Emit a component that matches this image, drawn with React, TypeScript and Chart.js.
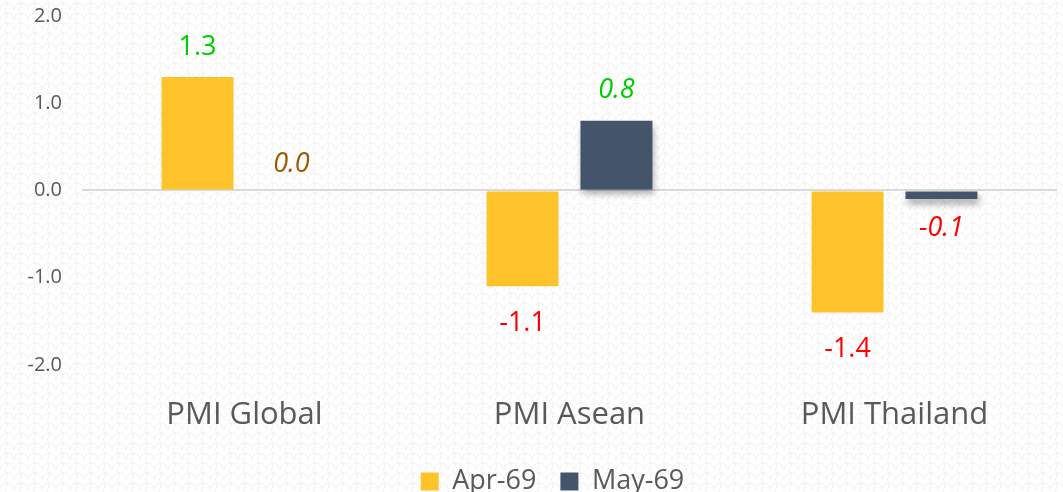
import React, { useEffect, useRef } from "react";
import { Chart, registerables } from "chart.js";

Chart.register(...registerables);

const categories = ["PMI Global", "PMI Asean", "PMI Thailand"];
const seriesNames = ["Apr-69", "May-69"];
const aprValues = [1.3, -1.1, -1.4];
const mayValues = [0.0, 0.8, -0.1];
const yTicks = [2.0, 1.0, 0.0, -1.0, -2.0];

const FONT = "'Open Sans', 'Noto Sans', sans-serif";

function makePattern(): HTMLCanvasElement {
  const c = document.createElement("canvas");
  c.width = 14;
  c.height = 10;
  const g = c.getContext("2d")!;
  g.fillStyle = "#ffffff";
  g.fillRect(0, 0, 14, 10);
  g.strokeStyle = "#f1f1f1";
  g.lineWidth = 1;
  g.beginPath();
  g.arc(7, 10, 7, Math.PI, 2 * Math.PI);
  g.stroke();
  g.beginPath();
  g.arc(0, 5, 7, 1.5 * Math.PI, 0.5 * Math.PI);
  g.stroke();
  return c;
}

const backgroundPlugin = {
  id: "bgPattern",
  beforeDraw(chart: any) {
    const ctx = chart.ctx;
    const pat = ctx.createPattern(makePattern(), "repeat");
    ctx.save();
    ctx.fillStyle = pat || "#ffffff";
    ctx.fillRect(0, 0, chart.width, chart.height);
    ctx.restore();
  },
};

const legendShiftPlugin = {
  id: "legendShift",
  afterLayout(chart: any) {
    const lg = chart.legend;
    if (lg) {
      lg.left += 24;
      lg.right += 24;
    }
  },
};

const shadowPlugin = {
  id: "barShadow",
  beforeDatasetDraw(chart: any, args: any) {
    if (args.index === 1) {
      const ctx = chart.ctx;
      ctx.save();
      ctx.shadowColor = "rgba(0,0,0,0.35)";
      ctx.shadowBlur = 7;
      ctx.shadowOffsetX = 2;
      ctx.shadowOffsetY = 5;
    }
  },
  afterDatasetDraw(chart: any, args: any) {
    if (args.index === 1) chart.ctx.restore();
  },
};

const labelPlugin = {
  id: "valueLabels",
  afterDatasetsDraw(chart: any) {
    const ctx = chart.ctx;
    chart.data.datasets.forEach((ds: any, di: number) => {
      const meta = chart.getDatasetMeta(di);
      meta.data.forEach((el: any, i: number) => {
        const v = ds.data[i] as number;
        const italic = di === 1;
        let color = "#00CC00";
        if (v < 0) color = "#FF0000";
        else if (v === 0) color = "#9C5700";
        ctx.save();
        ctx.font = `${italic ? "italic " : ""}27px ${FONT}`;
        ctx.fillStyle = color;
        ctx.textAlign = "center";
        ctx.textBaseline = "middle";
        let y: number;
        if (v > 0) y = el.y - 30;
        else if (v === 0) y = el.y - 26;
        else y = el.y + (di === 0 ? 37 : 29);
        ctx.fillText(v.toFixed(1), el.x, y);
        ctx.restore();
      });
    });
  },
};

export default function App() {
  const ref = useRef<HTMLCanvasElement | null>(null);

  useEffect(() => {
    document.body.style.margin = "0";
    if (!ref.current) return;
    const chart = new Chart(ref.current, {
      type: "bar",
      data: {
        labels: categories,
        datasets: [
          {
            label: seriesNames[0],
            data: aprValues,
            backgroundColor: "#FEC22B",
            categoryPercentage: 0.578,
            barPercentage: 0.766,
          },
          {
            label: seriesNames[1],
            data: mayValues,
            backgroundColor: "#44546A",
            categoryPercentage: 0.578,
            barPercentage: 0.766,
          },
        ],
      },
      plugins: [backgroundPlugin, legendShiftPlugin, shadowPlugin, labelPlugin],
      options: {
        animation: false,
        responsive: false,
        maintainAspectRatio: false,
        layout: { padding: { top: 16, right: 6, left: 0, bottom: -13 } },
        plugins: {
          tooltip: { enabled: false },
          legend: {
            position: "bottom",
            labels: {
              boxWidth: 18,
              boxHeight: 18,
              padding: 24,
              color: "#595959",
              font: { family: FONT, size: 27 },
            },
          },
        },
        scales: {
          x: {
            grid: { display: false },
            border: { display: false },
            afterFit(scale: any) {
              scale.height -= 14;
            },
            ticks: {
              color: "#595959",
              font: { family: FONT, size: 31 },
              padding: 24,
            },
          },
          y: {
            min: -2,
            max: 2,
            afterFit(scale: any) {
              scale.width = 82;
              scale.paddingTop = 0;
              scale.paddingBottom = 0;
            },
            afterBuildTicks(scale: any) {
              scale.ticks = yTicks.map((v) => ({ value: v }));
            },
            grid: {
              color: (c: any) => (c.tick && c.tick.value === 0 ? "#D9D9D9" : "rgba(0,0,0,0)"),
              lineWidth: 2,
              drawTicks: false,
            },
            border: { display: false },
            ticks: {
              color: "#595959",
              font: { family: FONT, size: 20 },
              padding: 20,
              callback: (v: any) => Number(v).toFixed(1),
            },
          },
        },
      },
    });
    return () => chart.destroy();
  }, []);

  return (
    <div style={{ width: 1063, height: 492 }}>
      <canvas ref={ref} width={1063} height={492} style={{ display: "block" }} />
    </div>
  );
}
